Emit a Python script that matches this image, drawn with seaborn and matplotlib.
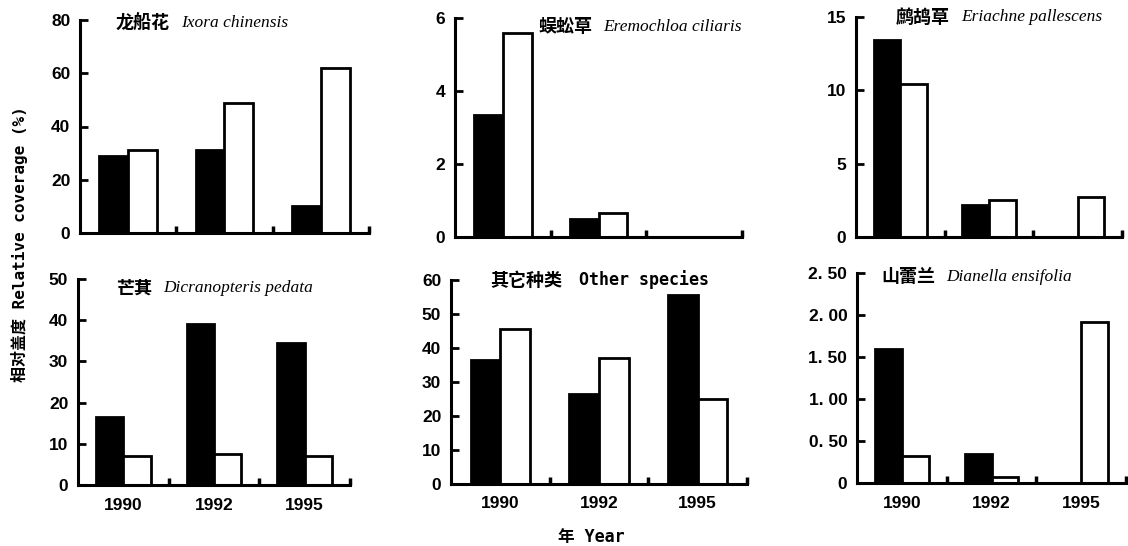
import matplotlib
matplotlib.use("Agg")
import matplotlib.pyplot as plt
import pandas as pd
import seaborn as sns
from matplotlib.offsetbox import TextArea, HPacker, AnchoredOffsetbox

sns.set_style("white")
plt.rcParams['font.family'] = ['Liberation Sans', 'Noto Sans CJK SC', 'DejaVu Sans']
plt.rcParams['text.color'] = 'black'
plt.rcParams['xtick.color'] = 'black'
plt.rcParams['ytick.color'] = 'black'

years = ["1990", "1992", "1995"]
groups = ["a", "b"]

cn_names = ["龙船花", "蜈蚣草", "鹧鸪草", "芒萁", "其它种类", "山蕾兰"]
latin_names = ["Ixora chinensis", "Eremochloa ciliaris", "Eriachne pallescens",
               "Dicranopteris pedata", "Other species", "Dianella ensifolia"]

black_vals = [
    [29, 31, 10],
    [3.35, 0.5, 0],
    [13.4, 2.2, 0],
    [16.5, 39, 34.5],
    [36.5, 26.5, 55.5],
    [1.6, 0.35, 0],
]
white_vals = [
    [31, 49, 62],
    [5.6, 0.65, 0],
    [10.4, 2.5, 2.7],
    [7, 7.5, 7],
    [45.5, 37, 25],
    [0.32, 0.07, 1.92],
]
y_ticks = [
    [0, 20, 40, 60, 80],
    [0, 2, 4, 6],
    [0, 5, 10, 15],
    [0, 10, 20, 30, 40, 50],
    [0, 10, 20, 30, 40, 50, 60],
    [0, 0.5, 1.0, 1.5, 2.0, 2.5],
]
y_ticklabels = [
    ["0", "20", "40", "60", "80"],
    ["0", "2", "4", "6"],
    ["0", "5", "10", "15"],
    ["0", "10", "20", "30", "40", "50"],
    ["0", "10", "20", "30", "40", "50", "60"],
    ["0", "0. 50", "1. 00", "1. 50", "2. 00", "2. 50"],
]

W, H = 1128, 546
# axes boxes in pixels: left, right, top, bottom
boxes = [
    (80, 369, 20, 233),
    (455, 742, 18, 237),
    (856, 1122, 17, 237),
    (78, 350, 279, 485),
    (451, 747, 280, 484),
    (857, 1126, 273, 483),
]
# title anchor: left x, center y (pixels)
title_pos = [(116, 23), (538, 27), (896, 17), (116, 288), (490, 280), (881, 277)]

fig = plt.figure(figsize=(W / 100, H / 100), dpi=100)

for i in range(6):
    l, r, t, b = boxes[i]
    ax = fig.add_axes([l / W, 1 - b / H, (r - l) / W, (b - t) / H])
    df = pd.DataFrame({
        "year": years * 2,
        "type": ["a"] * 3 + ["b"] * 3,
        "value": black_vals[i] + white_vals[i],
    })
    sns.barplot(data=df, x="year", y="value", hue="type", hue_order=groups,
                order=years, palette=["black", "white"], edgecolor="black",
                linewidth=2, width=0.6, saturation=1, legend=False, ax=ax)
    ax.set_xlim(-0.5, 2.5)
    ax.set_ylim(0, y_ticks[i][-1])
    ax.set_yticks(y_ticks[i])
    ax.set_yticklabels(y_ticklabels[i])
    ax.set_xlabel("")
    ax.set_ylabel("")
    for s in ["top", "right"]:
        ax.spines[s].set_visible(False)
    for s in ["left", "bottom"]:
        ax.spines[s].set_linewidth(2.2)
        ax.spines[s].set_color("black")
    ax.tick_params(axis="y", left=True, direction="in", length=6, width=2, pad=7,
                   labelsize=12.5, colors="black")
    ax.set_xticks([0.5, 1.5, 2.5], minor=True)
    ax.tick_params(axis="x", which="minor", bottom=True, direction="in",
                   length=5, width=2.5, colors="black")
    ax.tick_params(axis="x", which="major", bottom=True, length=0, pad=9,
                   labelsize=12.5, colors="black")
    for lab in ax.get_yticklabels() + ax.get_xticklabels():
        lab.set_fontweight("bold")
    if i < 3:
        ax.set_xticklabels([])

    # title
    cn = TextArea(cn_names[i], textprops=dict(family=["Noto Sans CJK SC"],
                  fontweight="bold", fontsize=13))
    if i == 4:
        la = TextArea(latin_names[i], textprops=dict(family=["DejaVu Sans Mono"],
                      fontweight="bold", fontsize=12))
        sep = 12
    else:
        la = TextArea(latin_names[i], textprops=dict(family=["Liberation Serif"],
                      style="italic", fontsize=12.5))
        sep = 8
    box = HPacker(children=[cn, la], align="center", pad=0, sep=sep)
    x0, y0 = title_pos[i]
    anch = AnchoredOffsetbox(loc="center left", child=box, pad=0, borderpad=0,
                             frameon=False, bbox_to_anchor=(x0 / W, 1 - y0 / H),
                             bbox_transform=fig.transFigure)
    fig.add_artist(anch)

fig.text(20 / W, 1 - 244 / H, "相对盖度 Relative coverage (%)", rotation=90,
         ha="center", va="center", fontsize=11.5, fontweight="bold",
         family=["DejaVu Sans Mono", "Noto Sans CJK SC"])
fig.text(591 / W, 1 - 537 / H, "年 Year", ha="center", va="center",
         fontsize=12, fontweight="bold",
         family=["DejaVu Sans Mono", "Noto Sans CJK SC"])

fig.savefig("out.png", dpi=100)
